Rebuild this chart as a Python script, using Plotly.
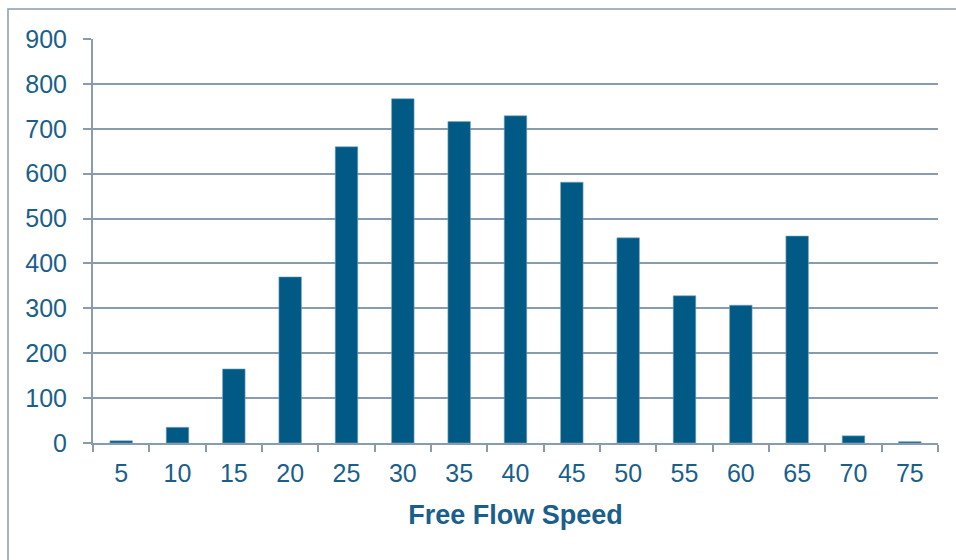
import plotly.graph_objects as go

# Free flow speed distribution (counts per 5 mph bin)
speeds = ["5", "10", "15", "20", "25", "30", "35", "40", "45", "50", "55", "60", "65", "70", "75"]
counts = [5, 35, 165, 370, 660, 767, 716, 729, 581, 457, 328, 307, 461, 16, 3]
y_ticks = [0, 100, 200, 300, 400, 500, 600, 700, 800, 900]

bar_color = "#005A85"
grid_color = "#8A9BAE"
text_color = "#1A5F8C"

fig = go.Figure(
    go.Bar(
        x=speeds,
        y=counts,
        marker=dict(color=bar_color, line=dict(color="#7FA6BF", width=0.6)),
    )
)

fig.update_layout(
    width=956,
    height=560,
    margin=dict(l=93, r=18, t=39, b=117),
    paper_bgcolor="white",
    plot_bgcolor="white",
    bargap=0.6,
    showlegend=False,
    font=dict(family="Liberation Sans, Arial, sans-serif", size=25, color=text_color),
    shapes=[
        dict(
            type="rect", xref="paper", yref="paper",
            x0=-0.1006, x1=1.2, y0=-0.5, y1=1.0743,
            line=dict(color=grid_color, width=1.5),
            fillcolor="rgba(0,0,0,0)",
            layer="below",
        )
    ],
)

fig.update_xaxes(
    type="category",
    showline=True,
    linecolor=grid_color,
    linewidth=2,
    ticks="outside",
    tickson="boundaries",
    ticklen=7,
    tickwidth=2,
    tickcolor=grid_color,
    showgrid=False,
    tickfont=dict(size=25, color=text_color),
    ticklabelstandoff=7,
    title=dict(
        text="<b>Free Flow Speed</b>",
        font=dict(size=27, color=text_color),
        standoff=19,
    ),
)

fig.update_yaxes(
    range=[0, 900],
    tickvals=y_ticks,
    showline=True,
    linecolor=grid_color,
    linewidth=2,
    ticks="outside",
    ticklen=8,
    tickwidth=2,
    tickcolor=grid_color,
    showgrid=True,
    gridcolor=grid_color,
    gridwidth=2,
    zeroline=False,
    tickfont=dict(size=25, color=text_color),
    ticklabelstandoff=11,
)

fig.write_html("out.html")
